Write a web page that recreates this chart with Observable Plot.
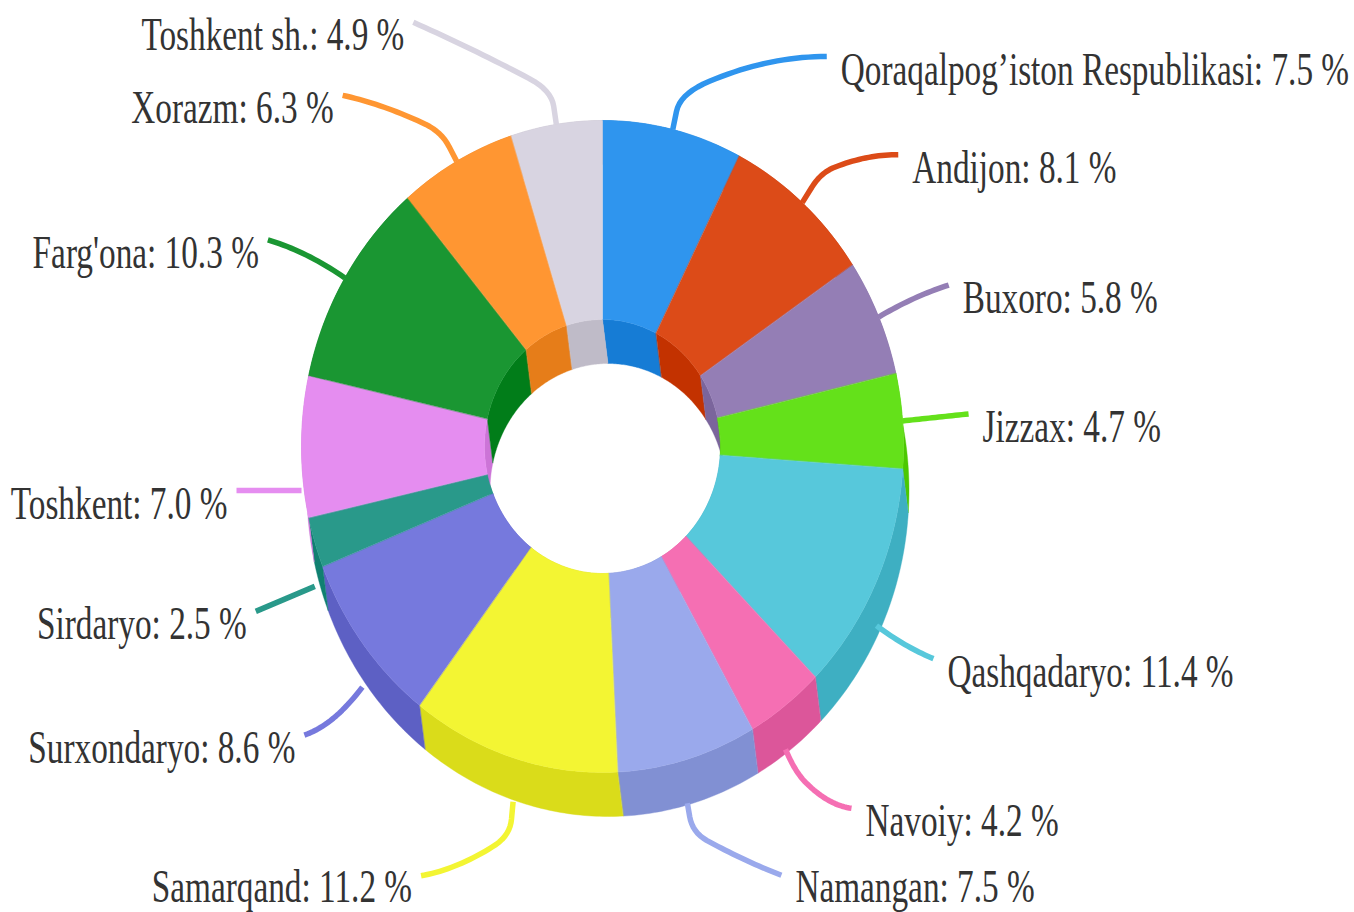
<!DOCTYPE html>
<html>
<head>
<meta charset="utf-8">
<script src="https://cdn.jsdelivr.net/npm/d3@7"></script>
<script src="https://cdn.jsdelivr.net/npm/@observablehq/plot@0.6"></script>
<style>
html,body{margin:0;padding:0;background:#fff;overflow:hidden}
svg{display:block}
</style>
</head>
<body>
<div id="chart"></div>
<script>
// Data
const regions = ["Qoraqalpog’iston Respublikasi","Andijon","Buxoro","Jizzax","Qashqadaryo","Navoiy","Namangan","Samarqand","Surxondaryo","Sirdaryo","Toshkent","Farg'ona","Xorazm","Toshkent sh."];
const shares = [7.5,8.1,5.8,4.7,11.4,4.2,7.5,11.2,8.6,2.5,7.0,10.3,6.3,4.9];
const colors = ["#2f95ee","#dc4b18","#947eb5","#64e11a","#57c8db","#f56fb3","#9aa9ec","#f3f533","#7679dd","#29998a","#e58df0","#1a9632","#ff9632","#d8d4e1"];

// Callout layout, as offsets from the point where the connector leaves the slice:
// [elbow dx, elbow dy, end dx, end dy, arm bend (0.5 = straight)]
const calloutLayout = [
  [7,-34,154,-73,1],[18,-29,96,-48,1],[0,0,70,-32,.65],[0,0,66,-7,.5],
  [0,0,57,33,.65],[10,22,66,59,.9],[5,29,94,72,.6],[-3,33,-92,74,.8],
  [0,0,-58,48,.8],[0,0,-59,25,.5],[0,0,-65,0,.5],[0,0,-77,-38,.7],
  [-15,-29,-114,-66,.7],[-5,-34,-143,-102,.55]
];

// Drum geometry
const cx = 602, cy = 446, rx = 301, ry = 326, hx = 118, hy = 127, shiftX = 5.5, shiftY = 44;
const fontSize = 47, squeeze = 0.708, lowestLabelY = 886.5;

const darker = c => { const k = d3.rgb(c); return d3.rgb(k.r-25, k.g-25, k.b-25).formatHex(); };
const pt = (deg, a, b) => [cx + a*Math.sin(deg*Math.PI/180), cy - b*Math.cos(deg*Math.PI/180)];
const sweep = (a0, a1) => { const n = Math.max(2, Math.ceil((a1-a0)/0.75)); return d3.range(n+1).map(i => a0+(a1-a0)*i/n); };

let acc = 0;
const slices = regions.map((name,i) => {
  const a0 = acc/100*360; acc += shares[i]; const a1 = acc/100*360;
  return {name, value: shares[i], color: colors[i], wall: darker(colors[i]), a0, a1, mid:(a0+a1)/2, i};
});

const faces = [], walls = [], callouts = [], labels = [];
for (const s of slices) {
  const A = sweep(s.a0, s.a1), R = A.slice().reverse();
  const push = (arr, key, p, color) => arr.push({key, x:p[0], y:p[1], color});
  A.forEach(a => push(faces, s.i, pt(a,rx,ry), s.color));
  R.forEach(a => push(faces, s.i, pt(a,hx,hy), s.color));
  // outer wall
  A.forEach(a => push(walls, "o"+s.i, pt(a,rx,ry), s.wall));
  R.forEach(a => { const p = pt(a,rx,ry); push(walls, "o"+s.i, [p[0]+shiftX,p[1]+shiftY], s.wall); });
  // inner wall
  A.forEach(a => push(walls, "i"+s.i, pt(a,hx,hy), s.wall));
  R.forEach(a => { const p = pt(a,hx,hy); push(walls, "i"+s.i, [p[0]+shiftX,p[1]+shiftY], s.wall); });

  // connector
  const [ex,ey,tx,ty,bend] = calloutLayout[s.i];
  const S0 = pt(s.mid,rx,ry);
  const lower = s.mid >= 90 && s.mid <= 270;
  const S = [S0[0], S0[1] + (lower ? shiftY : 0)];
  const E = [S[0]+ex, S[1]+ey], T = [S[0]+tx, S[1]+ty];
  const C = [(E[0]+T[0])/2, E[1]+bend*(T[1]-E[1])];
  const Q = (P0,P1,P2,t) => [0,1].map(k => (1-t)*(1-t)*P0[k]+2*t*(1-t)*P1[k]+t*t*P2[k]);
  const route = [S];
  const hasElbow = ex || ey;
  if (hasElbow) {
    const len = Math.hypot(ex,ey), f = Math.max(0,1-16/len);
    const Ap = [S[0]+ex*f, S[1]+ey*f], Bp = Q(E,C,T,0.16);
    route.push(Ap);
    d3.range(1,8).forEach(i => route.push(Q(Ap,E,Bp,i/8)));
    d3.range(0,21).forEach(i => route.push(Q(E,C,T,0.16+0.84*i/20)));
  } else {
    d3.range(1,21).forEach(i => route.push(Q(E,C,T,i/20)));
  }
  route.forEach(p => callouts.push({key:s.i, x:p[0], y:p[1], color:s.color}));
  const right = tx > 0;
  labels.push({x:T[0]+(right?14:-9), y:Math.min(T[1]+13, lowestLabelY), anchor:right?"start":"end", text:`${s.name}: ${s.value.toFixed(1)} %`});
}

const plot = Plot.plot({
  width: 1354, height: 912, margin: 0,
  x: {domain:[0,1354], range:[0,1354], axis:null},
  y: {domain:[0,912], range:[0,912], axis:null},
  color: {type:"identity"},
  marks: [
    Plot.line(walls, {x:"x", y:"y", z:"key", fill:"color", stroke:"color", strokeWidth:0.4, curve:"linear-closed"}),
    Plot.line(faces, {x:"x", y:"y", z:"key", fill:"color", stroke:"color", strokeWidth:0.4, curve:"linear-closed"}),
    Plot.line(callouts, {x:"x", y:"y", z:"key", stroke:"color", strokeWidth:5.5, strokeLinecap:"butt", strokeLinejoin:"round", curve:"linear"}),
    Plot.text(labels.filter(d => d.anchor==="start"), {x:"x", y:"y", text:"text", textAnchor:"start", lineAnchor:"middle", fontFamily:"Liberation Serif", fontSize, fill:"#333333"}),
    Plot.text(labels.filter(d => d.anchor==="end"), {x:"x", y:"y", text:"text", textAnchor:"end", lineAnchor:"middle", fontFamily:"Liberation Serif", fontSize, fill:"#333333"})
  ]
});
document.getElementById("chart").appendChild(plot);
plot.querySelectorAll("text").forEach(t => {
  t.setAttribute("transform", `${t.getAttribute("transform") || ""} scale(${squeeze},1)`);
});
</script>
</body>
</html>
